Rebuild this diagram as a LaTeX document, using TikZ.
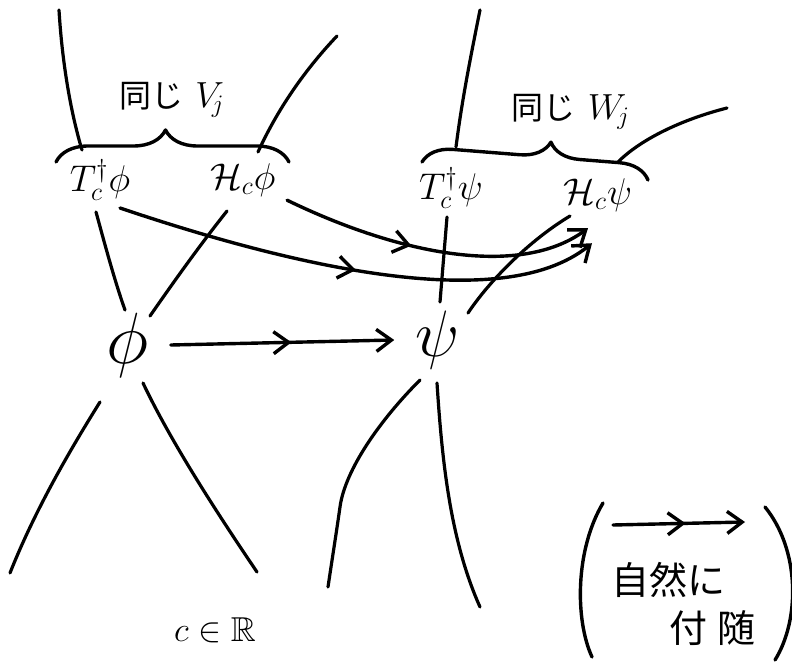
\documentclass[tikz,border=0pt]{standalone}
\usepackage{amsmath,amssymb}
\usepackage{fontspec}
\newfontfamily\jpfont{Noto Sans CJK JP}
\usetikzlibrary{arrows.meta,decorations.pathreplacing,decorations.markings}
\newcommand\mybm[2]{\scalebox{#1}{\fontsize{17.28}{20}\selectfont$#2$}}
\begin{document}
\begin{tikzpicture}[x=1pt,y=-1pt,line width=3.4pt,line cap=round,line join=round,
  fiber/.style={line width=3.2pt},
  lbl/.style={inner sep=2pt},
  big/.style={inner xsep=20pt,inner ysep=0pt},
  jp/.style={inner sep=0pt,font=\jpfont\fontsize{38}{44}\selectfont},
  tip/.style={-{Straight Barb[length=15pt,width=22pt]}},
  midarr/.style={postaction={decorate},decoration={markings,mark=at position #1 with {\arrow{Straight Barb[length=15pt,width=22pt]}}}},
  bracestyle/.style={decorate,decoration={brace,amplitude=#1}}
]
\useasboundingbox (0,0) rectangle (792,663);
\fill[white] (0,0) rectangle (792,663);

% labels
\node[lbl] (V) at (172,100) {{\jpfont\fontsize{32}{38}\selectfont 同じ}\hspace{12pt}\mybm{2.1}{V_{\!j}}};
\node[lbl] (W) at (571,112) {{\jpfont\fontsize{32}{38}\selectfont 同じ}\hspace{12pt}\mybm{2.1}{W_{\!j}}};
\node[lbl] (Tphi) at (100,180) {\mybm{2.15}{T_c^{\dagger}\phi}};
\node[lbl] (Hphi) at (243,180) {\mybm{2.15}{\mathcal{H}_c\phi}};
\node[lbl] (Tpsi) at (451,188) {\mybm{2.15}{T_c^{\dagger}\psi}};
\node[lbl] (Hpsi) at (598,195) {\mybm{2.15}{\mathcal{H}_c\psi}};
\node[big] (phi) at (128,345) {\mybm{4.2}{\phi}};
\node[big] (psi) at (438,340) {\mybm{3.8}{\psi}};
\node[lbl] (R) at (215,630) {\mybm{2}{c\in\mathbb{R}}};
\node[jp] (nat1) at (668,580) {自然に};
\node[jp] (nat2) at (712,628) {付\hspace{10pt}随};

% braces
\draw[bracestyle=32pt,decoration={aspect=0.47}] (56,162) -- (289,162);
\draw[bracestyle=30pt,decoration={aspect=0.56}] (422,162) -- (648,180);

% left fibres
\draw[fiber] (59,10) .. controls (62,60) and (70,110) .. (82,150);
\draw[fiber] (96,212) .. controls (105,245) and (115,282) .. (125,310);
\draw[fiber] (143,383) .. controls (170,440) and (215,510) .. (257,572);
\draw[fiber] (337,36) .. controls (300,75) and (275,115) .. (258,152);
\draw[fiber] (227,211) .. controls (200,245) and (175,280) .. (150,316);
\draw[fiber] (100,402) .. controls (70,450) and (35,510) .. (10,573);

% right fibres
\draw[fiber] (480,10) .. controls (470,60) and (462,100) .. (456,147);
\draw[fiber] (447,217) -- (440,302);
\draw[fiber] (437,383) .. controls (442,460) and (450,540) .. (480,607);
\draw[fiber] (727,108) .. controls (680,120) and (640,140) .. (618,162);
\draw[fiber] (570,216) .. controls (530,240) and (490,280) .. (468,313);
\draw[fiber] (420,380) .. controls (380,420) and (345,470) .. (340,507) .. controls (336,535) and (332,560) .. (328,587);

% arrows
\draw[tip,midarr=0.54] (phi.east) -- (psi.west);
\draw[tip,midarr=0.42] ([xshift=8pt]Hphi.south east) .. controls (400,255) and (520,278) .. ([xshift=-10pt,yshift=-13pt]Hpsi.south);
\draw[tip,midarr=0.5] ([xshift=20pt,yshift=-4pt]Tphi.south) .. controls (280,262) and (500,318) .. ([xshift=-6pt,yshift=-28pt]Hpsi.south);

% legend
\coordinate (la) at (613,525);
\coordinate (lb) at (745,522);
\draw[tip,midarr=0.55] (la) -- (lb);
\draw (603,503) .. controls (575,550) and (575,620) .. (592,657);
\draw (765,507) .. controls (800,550) and (800,620) .. (775,660);
\end{tikzpicture}
\end{document}
